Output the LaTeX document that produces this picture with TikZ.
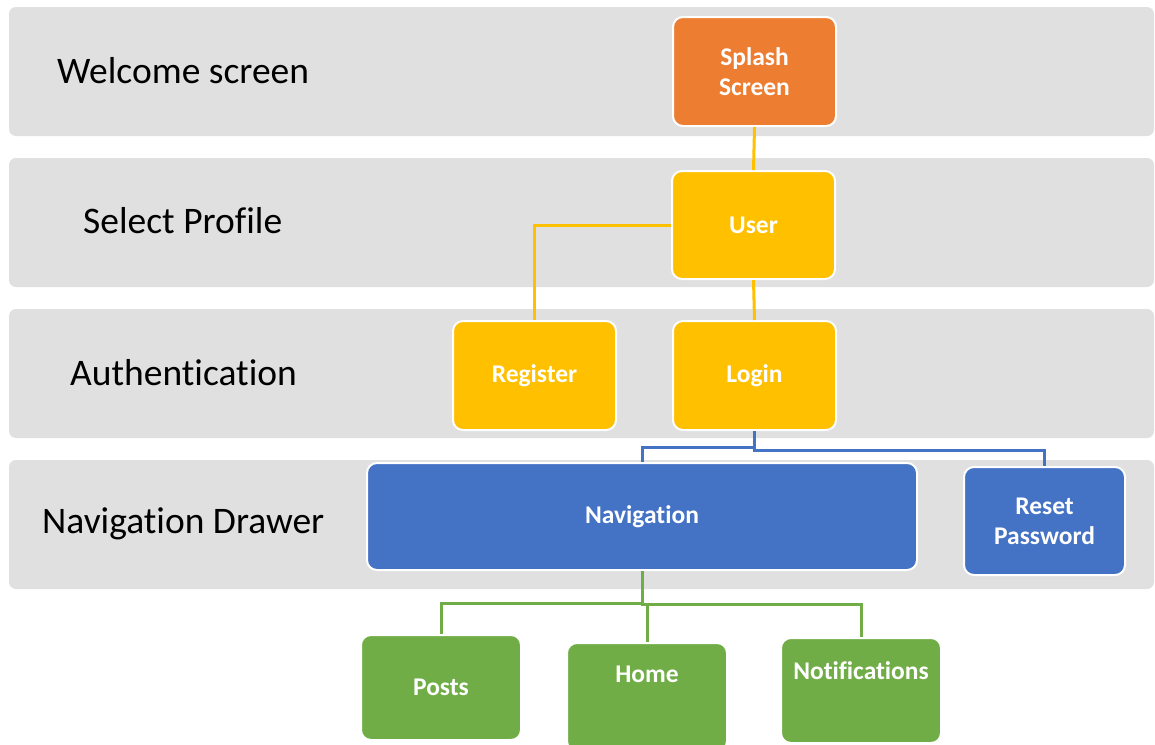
\documentclass[tikz,border=0pt]{standalone}
\usepackage{fontspec}
\setmainfont[Ligatures=NoCommon]{Carlito}
\begin{document}
\begin{tikzpicture}[x=1pt,y=-1pt,
  band/.style={fill=bandgray, rounded corners=7pt, inner sep=0pt,
    minimum width=1145pt, minimum height=129pt},
  lanelabel/.style={anchor=west, inner sep=0pt, text=black,
    font=\fontsize{37.5}{42}\selectfont},
  card/.style={draw=white, line width=2pt, rounded corners=10pt,
    inner sep=0pt, text=white, align=center,
    font=\fontsize{25.5}{30}\selectfont\bfseries},
  orangecard/.style={card, fill=cOrange},
  yellowcard/.style={card, fill=cYellow},
  bluecard/.style={card, fill=cBlue},
  greencard/.style={card, fill=cGreen},
  link/.style={line width=3pt},
]
\definecolor{bandgray}{HTML}{E0E0E0}
\definecolor{cOrange}{HTML}{ED7D31}
\definecolor{cYellow}{HTML}{FFC000}
\definecolor{cBlue}{HTML}{4472C4}
\definecolor{cGreen}{HTML}{70AD47}

\useasboundingbox (0,0) rectangle (1155,744);

% lanes
\node[band] (band1) at (581.5,71.5) {};
\node[band] (band2) at (581.5,222.5) {};
\node[band] (band3) at (581.5,373.5) {};
\node[band] (band4) at (581.5,524.5) {};

\node[lanelabel] (lab1) at (57,71) {Welcome screen};
\node[lanelabel] (lab2) at (83,221) {Select Profile};
\node[lanelabel] (lab3) at (70,373) {Authentication};
\node[lanelabel] (lab4) at (42,524) {Navigation Drawer};

% screens
\node[orangecard, minimum width=163pt, minimum height=109pt] (splash) at (754.5,71.5) {Splash\\Screen};
\node[yellowcard, minimum width=163pt, minimum height=108pt] (user) at (753.5,225) {User};
\node[yellowcard, minimum width=163pt, minimum height=109pt] (register) at (534.5,375.5) {Register};
\node[yellowcard, minimum width=163pt, minimum height=109pt] (login) at (754.5,375.5) {Login};
\node[bluecard, minimum width=550pt, minimum height=107pt] (nav) at (642,516.5) {Navigation};
\node[bluecard, minimum width=161pt, minimum height=108pt] (reset) at (1044.5,521) {Reset\\Password};
\node[greencard, minimum width=160pt, minimum height=105pt] (posts) at (441,687.5) {Posts};
\node[greencard, minimum width=160pt, minimum height=108pt,
  text height=18pt, text depth=48pt] (home) at (647,697) {Home};
\node[greencard, minimum width=160pt, minimum height=105pt,
  text height=18pt, text depth=41pt] (notif) at (861,690.5) {Notifications};

% connectors
\draw[link, cYellow] (splash.south) -- (user.north);
\draw[link, cYellow] (user.west) -| (register.north);
\draw[link, cYellow] (user.south) -- (login.north);

\draw[link, cBlue] (login.south) -- ++(0,16) -| (nav.north);
\draw[link, cBlue] (login.south) -- ++(0,19) -| (reset.north);

\draw[link, cGreen] (nav.south) -- ++(0,32) -| (posts.north);
\draw[link, cGreen] (nav.south) -- ++(0,33) -| (home.north);
\draw[link, cGreen] (nav.south) -- ++(0,33) -| (notif.north);
\end{tikzpicture}
\end{document}
